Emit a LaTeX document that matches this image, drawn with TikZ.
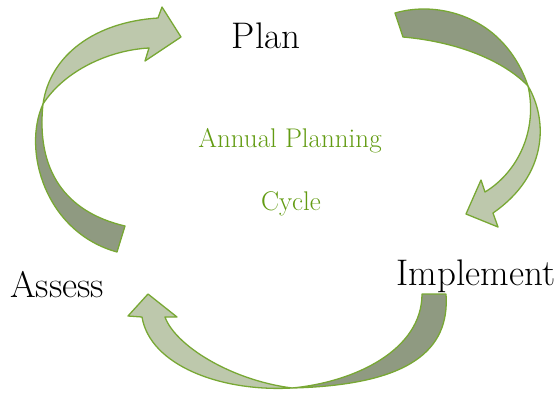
\documentclass[tikz,border=0pt]{standalone}
\usepackage{tikz}
\usetikzlibrary{positioning}
\definecolor{rim}{RGB}{120,168,52}
\definecolor{sage}{RGB}{189,200,172}
\definecolor{moss}{RGB}{143,154,129}
\definecolor{leaf}{RGB}{98,155,18}

\begin{document}
\begin{tikzpicture}[x=1pt,y=-1pt,line join=round,
        front/.style={draw=rim,fill=sage,line width=1.3pt},
        back/.style={draw=rim,fill=moss,line width=1.3pt},
        main node/.style={inner sep=0pt,anchor=base,font=\fontsize{37}{42}\selectfont},
        mid node/.style={inner sep=0pt,anchor=base,text=leaf,font=\fontsize{27}{32}\selectfont}]

    \useasboundingbox (0,0) rectangle (560,392);

    % Assess -> Plan
    \draw[back] (117,252) .. controls (45,232) and (22,150) .. (43,104)
        .. controls (36,170) and (65,212) .. (125,226) -- cycle;
    \draw[front] (43,104) .. controls (50,55) and (95,22) .. (158,18)
        -- (162,7) -- (181,37) -- (145,61) -- (149,48)
        .. controls (110,50) and (65,70) .. (43,104) -- cycle;

    % Plan -> Implement
    \draw[back] (395,13) .. controls (430,3) and (470,12) .. (497,37)
        .. controls (512,51) and (522,68) .. (528,86)
        .. controls (505,62) and (460,42) .. (403,37) -- cycle;
    \draw[front] (528,86) .. controls (548,120) and (548,175) .. (493,213)
        -- (498,227) -- (466,214) -- (481,180) -- (485,192)
        .. controls (518,172) and (538,130) .. (528,86) -- cycle;

    % Implement -> Assess
    \draw[back] (446,294) .. controls (450,350) and (410,385) .. (292,388)
        .. controls (355,382) and (422,350) .. (422,294) -- cycle;
    \draw[front] (292,388) .. controls (220,392) and (150,365) .. (142,317)
        -- (128,316) -- (148,294) -- (177,317) -- (165,317)
        .. controls (175,345) and (230,380) .. (292,388) -- cycle;

    \node[main node] (plan) at (266,48) {Plan};
    \node[main node] (implement) at (476,285) {Implement};
    \node[main node] (assess) at (57,297) {Assess};
    \node[mid node] (annual) at (290,147) {Annual Planning};
    \node[mid node] (cycle) at (291,210) {Cycle};

\end{tikzpicture}
\end{document}
